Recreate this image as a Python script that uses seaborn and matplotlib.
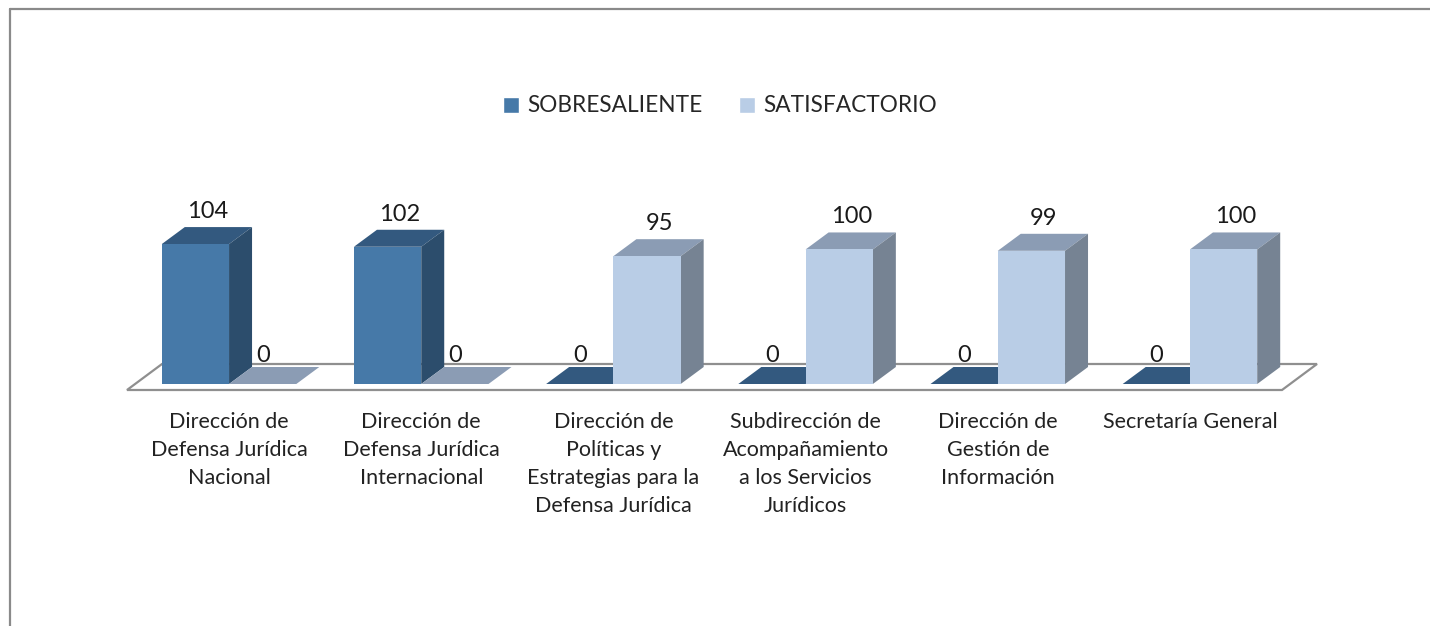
import matplotlib
matplotlib.use("Agg")
import matplotlib.pyplot as plt
from matplotlib.patches import Polygon, Patch
from matplotlib.lines import Line2D
import seaborn as sns
import pandas as pd

# Datos del gráfico
categories = [
    "Dirección de\nDefensa Jurídica\nNacional",
    "Dirección de\nDefensa Jurídica\nInternacional",
    "Dirección de\nPolíticas y\nEstrategias para la\nDefensa Jurídica",
    "Subdirección de\nAcompañamiento\na los Servicios\nJurídicos",
    "Dirección de\nGestión de\nInformación",
    "Secretaría General",
]
series = ["SOBRESALIENTE", "SATISFACTORIO"]
sobresaliente = [104, 102, 0, 0, 0, 0]
satisfactorio = [0, 0, 95, 100, 99, 100]

# colores por serie: cara frontal, lateral y superior
front_colors = ["#4679A8", "#B9CDE6"]
side_colors = ["#2C4D6C", "#768393"]
top_colors = ["#33597F", "#8B9CB4"]

W, H = 1430, 626
sns.set_style("white")
plt.rcParams["font.family"] = ["Lato", "DejaVu Sans"]

df = pd.DataFrame({
    "area": categories * 2,
    "serie": [series[0]] * len(categories) + [series[1]] * len(categories),
    "valor": sobresaliente + satisfactorio,
})

fig = plt.figure(figsize=(W / 100, H / 100), dpi=100)
ax = fig.add_axes([127 / W, (H - 384) / H, (1282 - 127) / W, 148 / H])
sns.barplot(data=df, x="area", y="valor", hue="serie", hue_order=series,
            palette=front_colors, saturation=1, width=0.7, linewidth=0,
            errorbar=None, legend=False, ax=ax)
ax.set_xlim(-0.531, 5.479)
ax.set_ylim(0, 110)

# barras de izquierda a derecha
bars = sorted(list(ax.patches), key=lambda p: p.get_x())

# pixeles por unidad de datos
sx = ax.bbox.width / (ax.get_xlim()[1] - ax.get_xlim()[0])
sy = ax.bbox.height / (ax.get_ylim()[1] - ax.get_ylim()[0])

def px(dx, dy):
    return dx / sx, dy / sy

ddx, ddy = px(23, 17)  # profundidad de las barras

# piso en perspectiva
x0, x1 = ax.get_xlim()
fdx, _ = px(35, 0)
_, yf = px(0, -6)
_, yb = px(0, 20)
ax.add_patch(Polygon([(x0, yf), (x1, yf), (x1 + fdx, yb), (x0 + fdx, yb)],
                     closed=True, facecolor="white", edgecolor="#8F8F8F",
                     lw=1.6, zorder=1, clip_on=False))

for k, p in enumerate(bars):
    hue = k % 2
    z = 3 + k
    bx, bw, bh = p.get_x(), p.get_width(), p.get_height()
    p.set_zorder(z + 0.5)
    p.set_clip_on(False)
    top = Polygon([(bx, bh), (bx + bw, bh), (bx + bw + ddx, bh + ddy), (bx + ddx, bh + ddy)],
                  closed=True, facecolor=top_colors[hue], lw=0, zorder=z, clip_on=False)
    side = Polygon([(bx + bw, 0), (bx + bw + ddx, ddy), (bx + bw + ddx, bh + ddy), (bx + bw, bh)],
                   closed=True, facecolor=side_colors[hue], lw=0, zorder=z, clip_on=False)
    ax.add_patch(top)
    ax.add_patch(side)
    if bh > 0:
        lx = bx + bw / 2 + px(12, 0)[0]
        ly = bh + ddy + px(0, 5)[1]
    else:
        lx = bx + bw / 2
        ly = ddy + px(0, 1)[1]
    ax.text(lx, ly, f"{bh:.0f}", ha="center", va="bottom", fontsize=17,
            color="#1A1A1A", zorder=50, clip_on=False)

ax.set_xlabel("")
ax.set_ylabel("")
ax.set_yticks([])
ax.tick_params(axis="x", length=0, pad=20, labelsize=15.5, labelcolor="#222222")
plt.setp(ax.get_xticklabels(), linespacing=1.5)
ax.patch.set_visible(False)
sns.despine(ax=ax, left=True, bottom=True)

handles = [Patch(facecolor=c, label=s) for c, s in zip(front_colors, series)]
fig.legend(handles=handles, loc="center", bbox_to_anchor=(720 / W, 1 - 106 / H),
           ncol=2, frameon=False, fontsize=16.3, handlelength=0.72, handleheight=0.72,
           handletextpad=0.36, columnspacing=1.6)

# marco del área del gráfico
fig.add_artist(Line2D([9.5 / W, 9.5 / W], [0, 1 - 8.5 / H], color="#8A8A8A", lw=1.6,
                      transform=fig.transFigure))
fig.add_artist(Line2D([9.5 / W, 1], [1 - 8.5 / H, 1 - 8.5 / H], color="#8A8A8A", lw=1.6,
                      transform=fig.transFigure))

fig.savefig("out.png", dpi=100)
